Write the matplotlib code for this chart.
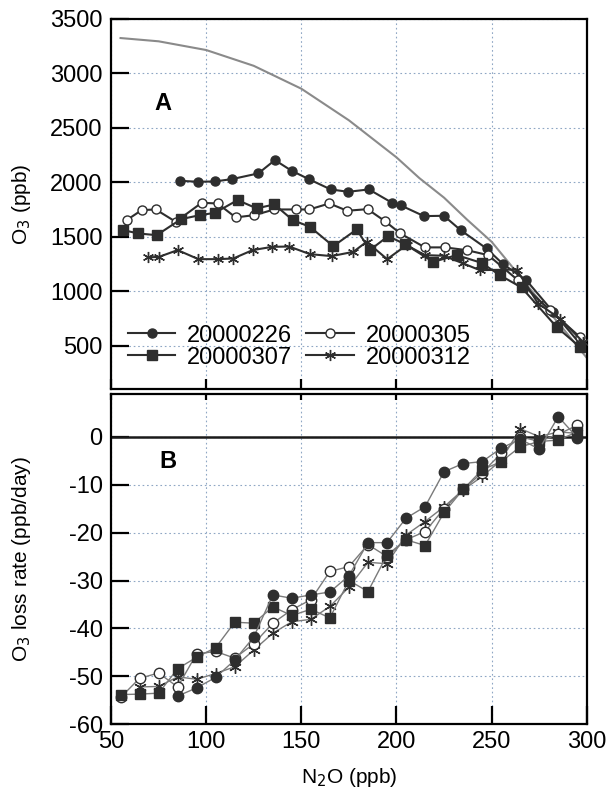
import numpy as np
import matplotlib
matplotlib.use('Agg')
import matplotlib.pyplot as plt

plt.rcParams['font.family'] = ['Liberation Sans', 'DejaVu Sans']
plt.rcParams['axes.unicode_minus'] = False

# ---- panel A: O3 vs N2O profiles for each flight date ----
curve_n2o = [55, 75, 100, 125, 150, 175, 200, 212, 225, 237, 250, 262, 275, 287, 300]
curve_o3 = [3325, 3295, 3215, 3070, 2860, 2570, 2230, 2040, 1860, 1660, 1455, 1200, 920, 670, 390]

a226_x = [86.2, 95.9, 104.6, 113.7, 127.4, 136.1, 144.9, 154.2, 165.4, 174.6, 185.5, 197.7, 202.3,
          214.4, 224.9, 233.7, 247.3, 256.0, 268.2, 282.3, 296.3]
a226_y = [2015, 2006, 2009, 2031, 2083, 2205, 2107, 2028, 1936, 1914, 1936, 1813, 1789,
          1691, 1694, 1562, 1394, 1250, 1103, 812, 522]

a305_x = [58.2, 66.1, 73.5, 84.0, 97.6, 106.0, 115.5, 125.3, 135.8, 147.0, 154.2, 164.7, 174.1,
          184.8, 193.9, 202.0, 214.9, 225.4, 236.8, 248.2, 263.8, 280.6, 296.3]
a305_y = [1654, 1746, 1752, 1639, 1813, 1807, 1679, 1700, 1752, 1752, 1752, 1807, 1740,
          1755, 1645, 1532, 1404, 1404, 1379, 1333, 1103, 828, 583]

a307_x = [56.5, 64.3, 74.0, 86.8, 96.7, 104.6, 116.5, 126.5, 135.8, 145.5, 154.5, 166.8, 179.1,
          186.0, 195.6, 204.4, 219.3, 231.6, 244.7, 254.3, 265.7, 284.1, 296.3]
a307_y = [1562, 1532, 1516, 1663, 1700, 1721, 1838, 1762, 1798, 1654, 1593, 1415, 1569,
          1379, 1507, 1434, 1271, 1333, 1262, 1149, 1036, 674, 491]

a312_x = [69.3, 75.2, 85.0, 95.9, 106.0, 114.2, 124.4, 134.7, 143.6, 154.5, 165.9, 177.3, 184.3,
          195.1, 205.3, 214.9, 224.9, 235.0, 243.8, 263.1, 274.4, 285.8, 298.0]
a312_y = [1312, 1317, 1379, 1296, 1296, 1302, 1379, 1409, 1412, 1342, 1324, 1363, 1455,
          1296, 1425, 1333, 1327, 1257, 1195, 1201, 889, 751, 537]

# ---- panel B: O3 loss rate in 10 ppb N2O bins ----
b_bins = [55, 65, 75, 85, 95, 105, 115, 125, 135, 145, 155, 165, 175, 185, 195,
          205, 215, 225, 235, 245, 255, 265, 275, 285, 295]
b226 = [None, None, None, -54.1, -52.4, -50.2, -46.6, -41.8, -33.0, -33.7, -33.0, -32.4, -29.0,
        -22.1, -22.1, -17.0, -14.6, -7.3, -5.6, -5.2, -2.4, -0.5, -2.6, 4.2, -0.2]
b305 = [-54.4, -50.4, -49.3, -52.2, -45.3, -44.8, -46.2, -43.2, -38.9, -36.1, -34.0, -28.1, -27.1,
        -22.5, -25.0, -21.5, -19.8, -15.0, -11.0, -7.5, -3.5, 0.0, -1.0, 0.5, 2.4]
b307 = [-53.8, -53.7, -53.5, -48.4, -46.0, -44.0, -38.7, -38.9, -35.5, -37.3, -36.0, -37.8, -30.0,
        -32.3, -24.7, -21.5, -22.7, -15.8, -11.0, -6.9, -5.2, -2.1, -1.0, -0.7, 1.0]
b312 = [None, -52.2, -52.1, -50.1, -50.6, -49.4, -48.0, -44.5, -41.0, -38.6, -38.1, -35.4, -31.4,
        -26.2, -26.5, -20.5, -17.7, -14.6, -11.1, -8.3, -4.9, 1.7, 0.0, 1.0, 0.7]

labels = ['20000226', '20000305', '20000307', '20000312']
dark = '#2e2e2e'
styles = {
    '20000226': dict(marker='o', mfc=dark, mec=dark),
    '20000305': dict(marker='o', mfc='white', mec=dark),
    '20000307': dict(marker='s', mfc=dark, mec=dark),
    '20000312': dict(marker=(6, 2, 0), mfc=dark, mec=dark),
}
grid_kw = dict(color='#8ea6c4', linestyle=(0, (1.5, 2.5)), linewidth=0.8)

fig = plt.figure(figsize=(6.1, 7.97), dpi=100)
ax1 = fig.add_axes([0.182, 0.5113, 0.780, 0.4649])
ax2 = fig.add_axes([0.182, 0.0912, 0.780, 0.415])

for ax in (ax1, ax2):
    for s in ax.spines.values():
        s.set_linewidth(1.6)
    ax.set_xlim(50, 300)
    ax.set_xticks([50, 100, 150, 200, 250, 300])
    ax.grid(True, **grid_kw)
    ax.set_axisbelow(True)
    ax.tick_params(axis='y', direction='in', length=13, width=1.6, labelsize=17,
                   pad=6, right=False)

# panel A
ax1.plot(curve_n2o, curve_o3, color='#8a8a8a', lw=1.5, zorder=2)
series_a = {'20000226': (a226_x, a226_y), '20000305': (a305_x, a305_y),
            '20000307': (a307_x, a307_y), '20000312': (a312_x, a312_y)}
handles = {}
for lab in labels:
    xs, ys = series_a[lab]
    ms = 8 if lab == '20000312' else 6.5
    h, = ax1.plot(xs, ys, color=dark, lw=1.5, ms=ms, mew=1.0, label=lab, zorder=3,
                  **styles[lab])
    handles[lab] = h
ax1.set_ylim(100, 3500)
ax1.set_yticks(np.arange(500, 3501, 500))
ax1.tick_params(axis='x', direction='in', length=7, width=1.6, labelbottom=False,
                top=False)
ax1.set_ylabel('O$_3$ (ppb)', fontsize=15)
ax1.yaxis.set_label_coords(-0.165, 0.5)
ax1.text(77, 2720, 'A', fontsize=17, fontweight='bold', ha='center', va='center')
order = ['20000226', '20000307', '20000305', '20000312']
ax1.legend([handles[k] for k in order], order, loc='lower left', ncol=2,
           bbox_to_anchor=(0.036, 0.056), frameon=False, fontsize=17,
           handlelength=2.0, handletextpad=0.5, columnspacing=0.6,
           labelspacing=0.0, borderpad=0.0, borderaxespad=0.0)

# panel B
ax2.axhline(0, color='#1a1a1a', lw=1.8, zorder=2)
series_b = {'20000226': b226, '20000305': b305, '20000307': b307, '20000312': b312}
for lab in ['20000312', '20000305', '20000307', '20000226']:
    pts = [(x, y) for x, y in zip(b_bins, series_b[lab]) if y is not None]
    xs = [p[0] for p in pts]
    ys = [p[1] for p in pts]
    ms = 9 if lab == '20000312' else 7.5
    ax2.plot(xs, ys, color='#7a7a7a', lw=1.0, ms=ms, mew=1.0, zorder=3, **styles[lab])
ax2.set_ylim(-60, 9)
ax2.set_yticks(np.arange(-60, 1, 10))
ax2.tick_params(axis='x', direction='in', length=13, width=1.6, labelsize=17, pad=5,
                top=True)
for t in ax2.xaxis.get_major_ticks():
    t.tick2line.set_markersize(4)
ax2.set_xlabel('N$_2$O (ppb)', fontsize=15, labelpad=9)
ax2.set_ylabel('O$_3$ loss rate (ppb/day)', fontsize=15)
ax2.yaxis.set_label_coords(-0.165, 0.5)
ax2.text(80, -5.1, 'B', fontsize=17, fontweight='bold', ha='center', va='center')

fig.savefig('out.png', dpi=100)
